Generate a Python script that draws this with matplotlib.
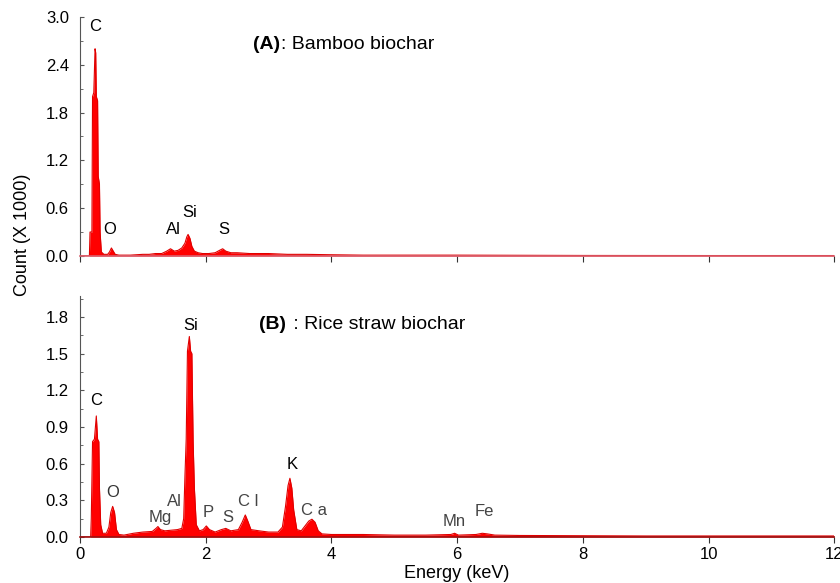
import matplotlib.pyplot as plt
from matplotlib.ticker import MultipleLocator

plt.rcParams['font.family'] = ['Liberation Sans', 'DejaVu Sans']

# EDS spectra: (energy keV, count x1000)
spectrum_a = [
    (0.00, 0.0), (0.15, 0.0), (0.16, 0.30), (0.19, 0.30), (0.20, 2.00), (0.22, 2.05),
    (0.24, 2.60), (0.25, 2.55), (0.26, 2.00), (0.28, 1.95), (0.29, 1.00), (0.31, 0.90),
    (0.32, 0.30), (0.34, 0.05), (0.38, 0.02), (0.44, 0.02), (0.47, 0.05), (0.50, 0.10),
    (0.53, 0.06), (0.56, 0.02), (0.62, 0.01), (0.80, 0.01), (1.00, 0.02), (1.10, 0.02),
    (1.20, 0.03), (1.30, 0.03), (1.38, 0.06), (1.44, 0.09), (1.50, 0.06), (1.56, 0.07),
    (1.62, 0.10), (1.67, 0.16), (1.70, 0.24), (1.72, 0.27), (1.75, 0.22), (1.78, 0.12),
    (1.82, 0.06), (1.88, 0.04), (1.95, 0.03), (2.05, 0.03), (2.15, 0.04), (2.22, 0.07),
    (2.27, 0.09), (2.32, 0.06), (2.40, 0.04), (2.50, 0.04), (2.70, 0.03), (3.00, 0.03),
    (3.30, 0.02), (3.60, 0.02), (4.00, 0.015), (4.50, 0.01), (5.00, 0.01), (6.00, 0.01),
    (7.00, 0.008), (8.00, 0.006), (10.0, 0.005), (12.0, 0.005),
]

spectrum_b = [
    (0.00, 0.0), (0.17, 0.0), (0.18, 0.15), (0.20, 0.78), (0.23, 0.80), (0.26, 0.99),
    (0.28, 0.80), (0.30, 0.78), (0.31, 0.40), (0.33, 0.10), (0.36, 0.03), (0.42, 0.03),
    (0.46, 0.08), (0.49, 0.20), (0.52, 0.25), (0.55, 0.20), (0.58, 0.06), (0.62, 0.02),
    (0.70, 0.015), (0.85, 0.03), (1.00, 0.04), (1.15, 0.045), (1.21, 0.07), (1.24, 0.085),
    (1.28, 0.06), (1.35, 0.05), (1.45, 0.055), (1.55, 0.06), (1.62, 0.07), (1.65, 0.15),
    (1.67, 0.50), (1.69, 0.80), (1.71, 1.52), (1.74, 1.64), (1.76, 1.52), (1.78, 1.50),
    (1.80, 0.78), (1.82, 0.40), (1.85, 0.10), (1.90, 0.05), (1.96, 0.06), (2.01, 0.09),
    (2.06, 0.06), (2.15, 0.04), (2.25, 0.06), (2.32, 0.07), (2.40, 0.05), (2.52, 0.06),
    (2.58, 0.12), (2.63, 0.18), (2.67, 0.13), (2.72, 0.06), (2.85, 0.05), (3.00, 0.04),
    (3.15, 0.04), (3.22, 0.08), (3.27, 0.25), (3.31, 0.42), (3.34, 0.48), (3.37, 0.40),
    (3.40, 0.22), (3.45, 0.06), (3.52, 0.05), (3.58, 0.09), (3.64, 0.13), (3.69, 0.145),
    (3.74, 0.12), (3.79, 0.05), (3.85, 0.025), (4.00, 0.02), (4.50, 0.02), (5.00, 0.015),
    (5.50, 0.015), (5.90, 0.02), (5.96, 0.03), (6.02, 0.015), (6.30, 0.02), (6.40, 0.03),
    (6.48, 0.025), (6.60, 0.015), (7.00, 0.012), (8.00, 0.01), (9.00, 0.008), (10.0, 0.008),
    (11.0, 0.008), (12.0, 0.008),
]

# element labels: (text, energy, height, colour)
labels_a = [
    ('C', 0.24, 2.88, 'black'), ('O', 0.48, 0.33, 'black'), ('Al', 1.48, 0.33, 'black'),
    ('Si', 1.74, 0.54, 'black'), ('S', 2.29, 0.33, 'black'),
]
labels_b = [
    ('C', 0.25, 1.12, 'black'), ('O', 0.52, 0.36, '#333333'), ('Mg', 1.28, 0.16, '#444444'),
    ('Al', 1.50, 0.29, '#444444'), ('Si', 1.76, 1.73, 'black'), ('P', 2.04, 0.20, '#444444'),
    ('S', 2.35, 0.16, '#444444'), ('C l', 2.68, 0.29, '#444444'), ('K', 3.37, 0.59, 'black'),
    ('C a', 3.72, 0.22, '#444444'), ('Mn', 5.96, 0.13, '#444444'), ('Fe', 6.44, 0.21, '#444444'),
]

fig = plt.figure(figsize=(8.4, 5.83), dpi=100)
ax_a = fig.add_axes([0.0952, 0.561, 0.898, 0.410])
ax_b = fig.add_axes([0.0952, 0.079, 0.898, 0.413])


def draw_panel(ax, spectrum, labels, ymax, ystep, spine_col):
    xs = [p[0] for p in spectrum]
    ys = [p[1] for p in spectrum]
    ax.fill_between(xs, 0, ys, color='#ff0000', linewidth=0)
    ax.plot(xs, ys, color='#e00000', linewidth=0.8)
    for txt, x, y, col in labels:
        ax.text(x, y, txt, ha='center', va='center', fontsize=12, color=col)
    ax.set_xlim(0, 12)
    ax.set_ylim(0, ymax)
    ax.xaxis.set_major_locator(MultipleLocator(2))
    ax.yaxis.set_major_locator(MultipleLocator(ystep))
    ax.yaxis.set_minor_locator(MultipleLocator(ystep / 2))
    ax.yaxis.set_major_formatter(plt.FormatStrFormatter('%.1f'))
    for s in ('top', 'right'):
        ax.spines[s].set_visible(False)
    ax.spines['left'].set_color('#555555')
    ax.spines['left'].set_linewidth(0.8)
    ax.spines['bottom'].set_color(spine_col)
    ax.spines['bottom'].set_linewidth(1.2)
    ax.tick_params(axis='y', direction='in', length=3, width=0.8, color='#555555',
                   labelsize=12, pad=8)
    ax.tick_params(axis='y', which='minor', direction='in', length=2, width=0.6, color='#555555')
    ax.tick_params(axis='x', direction='out', length=4, width=0.8, color='#333333',
                   labelsize=12, pad=3)


draw_panel(ax_a, spectrum_a, labels_a, 3.0, 0.6, '#d9606e')
draw_panel(ax_b, spectrum_b, labels_b, 1.97, 0.3, '#9b1010')
ax_a.tick_params(axis='x', labelbottom=False)

# panel titles: bold tag followed by plain text
tag_a = ax_a.text(2.75, 2.65, '(A)', fontsize=14, fontweight='bold', va='center', ha='left')
ax_a.annotate(': Bamboo biochar', xy=(1.0, 0.5), xycoords=tag_a, xytext=(1, 0),
              textcoords='offset points', fontsize=14, va='center', ha='left')
tag_b = ax_b.text(2.85, 1.74, '(B)', fontsize=14, fontweight='bold', va='center', ha='left')
ax_b.annotate(' : Rice straw biochar', xy=(1.0, 0.5), xycoords=tag_b, xytext=(1, 0),
              textcoords='offset points', fontsize=14, va='center', ha='left')

fig.text(0.027, 0.597, 'Count (X 1000)', rotation=90, ha='center', va='center', fontsize=13)
fig.text(0.544, 0.016, 'Energy (keV)', ha='center', va='center', fontsize=13)

fig.savefig('out.png', dpi=100)
